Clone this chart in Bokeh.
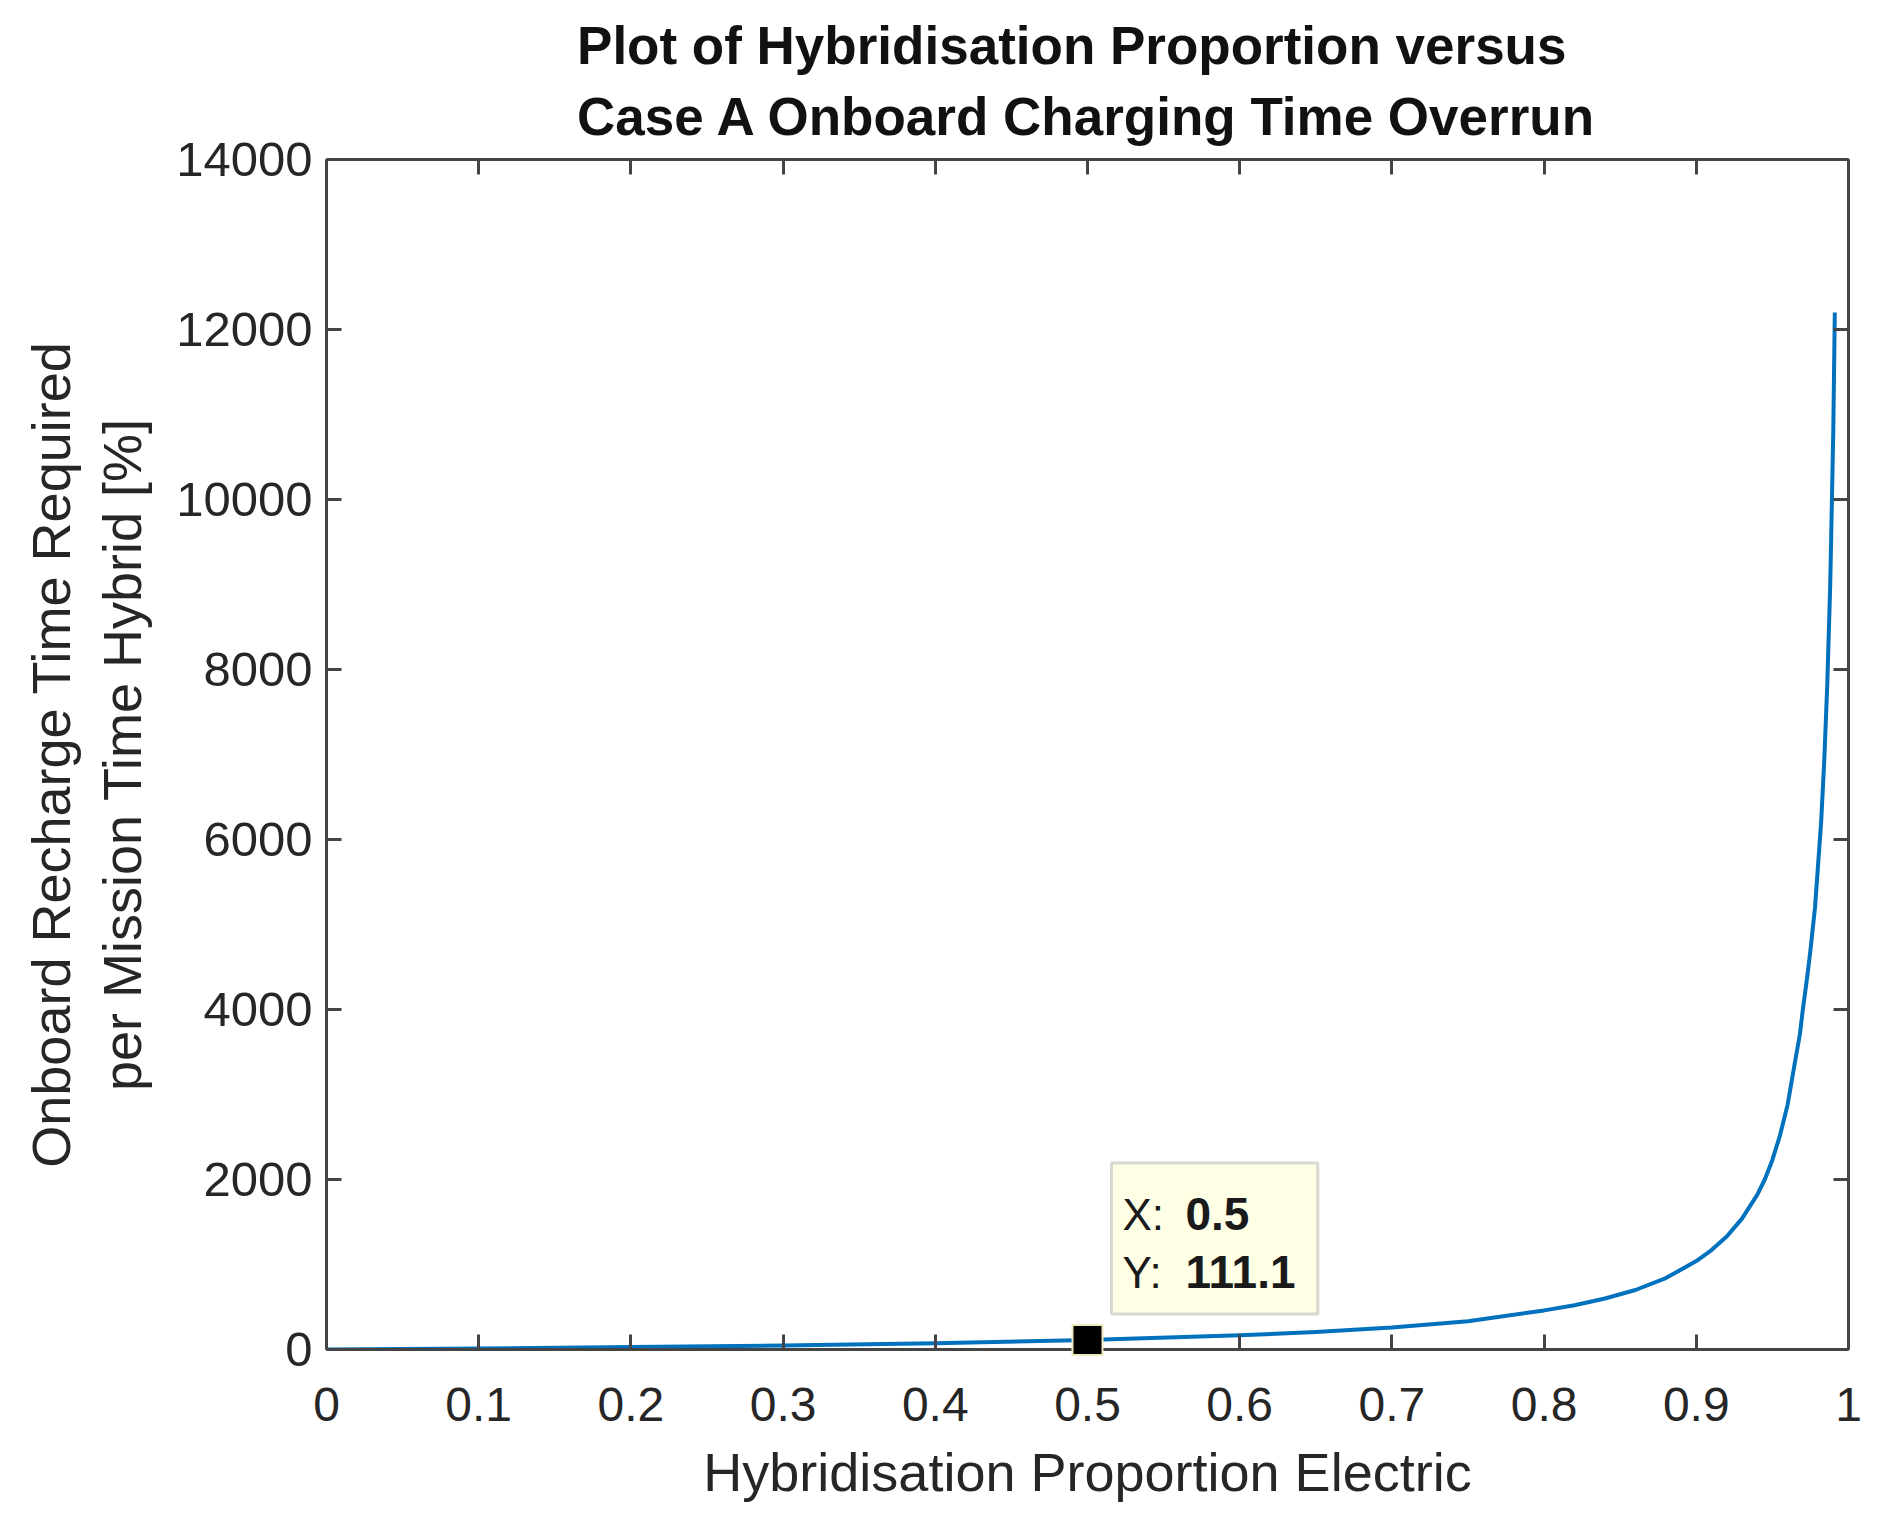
from bokeh.plotting import figure
from bokeh.models import Range1d, FixedTicker, LinearAxis, Label, CustomJSTickFormatter
from bokeh.embed import file_html
from bokeh.resources import INLINE

# ---- data ----
x_prop = [0.0, 0.1, 0.2, 0.3, 0.4, 0.5, 0.6, 0.65, 0.7, 0.75, 0.8, 0.82, 0.84,
          0.86, 0.88, 0.9, 0.91, 0.92, 0.93, 0.94, 0.945, 0.95, 0.955, 0.96,
          0.965, 0.968, 0.97, 0.973, 0.975, 0.978, 0.98, 0.982, 0.984, 0.986,
          0.988, 0.99, 0.991]
y_pct = [0, 12, 28, 48, 74, 111.1, 167, 206, 259, 333, 460, 520, 600,
         700, 840, 1040, 1170, 1330, 1540, 1820, 2000, 2230, 2520, 2880,
         3400, 3700, 4000, 4400, 4700, 5200, 5700, 6200, 6900, 7800,
         9000, 10800, 12200]

tip_x = 0.5
tip_y = 111.1
tip_lines = [("X:", "0.5"), ("Y:", "111.1")]

x_ticks = [0, 0.1, 0.2, 0.3, 0.4, 0.5, 0.6, 0.7, 0.8, 0.9, 1]
x_tick_labels = ["0", "0.1", "0.2", "0.3", "0.4", "0.5", "0.6", "0.7", "0.8", "0.9", "1"]
y_ticks = [0, 2000, 4000, 6000, 8000, 10000, 12000, 14000]

title_lines = ["Plot of Hybridisation Proportion versus", "Case A Onboard Charging Time Overrun"]
x_label = "Hybridisation Proportion Electric"
y_label_lines = ["Onboard Recharge Time Required", "per Mission Time Hybrid [%]"]

FONT = "Liberation Sans"
AX_COLOR = "#444444"
TXT_COLOR = "#262626"

p = figure(frame_width=1522, frame_height=1190,
           min_border_left=326, min_border_right=23,
           min_border_top=159, min_border_bottom=150,
           x_range=Range1d(0, 1), y_range=Range1d(0, 14000),
           output_backend="svg", toolbar_location=None,
           title="\n".join(title_lines), background_fill_color="white",
           border_fill_color="white")
p.outline_line_color = None
p.grid.visible = False

p.title.align = "center"
p.title.text_font = FONT
p.title.text_font_size = "53px"
p.title.text_font_style = "bold"
p.title.text_color = "#111111"
p.title.text_line_height = 1.2
p.title.standoff = 27

xfmt = CustomJSTickFormatter(args=dict(tv=x_ticks, tl=x_tick_labels), code="""
let best = 0, bd = 1e9;
for (let i = 0; i < tv.length; i++) { const d = Math.abs(tv[i] - tick); if (d < bd) { bd = d; best = i; } }
return tl[best];
""")
blank = CustomJSTickFormatter(code="return '';")

def style_axis(ax):
    ax.axis_line_color = AX_COLOR
    ax.axis_line_width = 3
    ax.major_tick_line_color = AX_COLOR
    ax.major_tick_line_width = 3
    ax.major_tick_in = 15
    ax.major_tick_out = 0
    ax.minor_tick_line_color = None
    ax.major_label_text_font = FONT
    ax.major_label_text_color = TXT_COLOR
    ax.axis_label_text_font = FONT
    ax.axis_label_text_color = TXT_COLOR
    ax.axis_label_text_font_style = "normal"

xa = p.xaxis[0]
xa.ticker = FixedTicker(ticks=x_ticks)
xa.formatter = xfmt
style_axis(xa)
xa.major_label_text_font_size = "48px"
xa.major_label_standoff = 38
xa.axis_label = x_label
xa.axis_label_text_font_size = "54px"
xa.axis_label_standoff = 18

ya = p.yaxis[0]
ya.ticker = FixedTicker(ticks=y_ticks)
style_axis(ya)
ya.major_label_text_font_size = "49px"
ya.major_label_standoff = 14
ya.axis_label = "\n".join(y_label_lines)
ya.axis_label_text_font_size = "54px"
ya.axis_label_text_line_height = 1.19
ya.axis_label_standoff = 21

top = LinearAxis(ticker=FixedTicker(ticks=x_ticks), formatter=blank)
style_axis(top)
top.major_label_text_font_size = "1px"
top.major_label_standoff = 0
p.add_layout(top, "above")

right = LinearAxis(ticker=FixedTicker(ticks=y_ticks), formatter=blank)
style_axis(right)
right.major_label_text_font_size = "1px"
right.major_label_standoff = 0
p.add_layout(right, "right")

# curve
p.line(x_prop, y_pct, line_color="#0072BD", line_width=4, line_join="round")

# datatip marker (drawn above the axis ticks)
p.scatter([tip_x], [tip_y], marker="square", size=30, fill_color="black",
          line_color="#efeac0", line_width=2, level="overlay")

# datatip box
box = Label(x=tip_x, y=tip_y, x_offset=24, y_offset=26, text=" ",
            text_font_size="1px", anchor="bottom_left",
            background_fill_color="#ffffe6", border_line_color="#d8d8d0",
            border_line_width=3, padding=(103, 103, 75, 75))
p.add_layout(box)

for i, (k, v) in enumerate(tip_lines):
    yoff = 126 - 58 * i
    p.add_layout(Label(x=tip_x, y=tip_y, x_offset=35, y_offset=yoff, text=k,
                       text_font=FONT, text_font_size="44px", text_color="#1a1a1a",
                       text_baseline="middle", text_align="left"))
    p.add_layout(Label(x=tip_x, y=tip_y, x_offset=98, y_offset=yoff, text=v,
                       text_font=FONT, text_font_size="46px", text_font_style="bold",
                       text_color="#1a1a1a", text_baseline="middle", text_align="left"))

open("out.html", "w").write(file_html(p, INLINE))
